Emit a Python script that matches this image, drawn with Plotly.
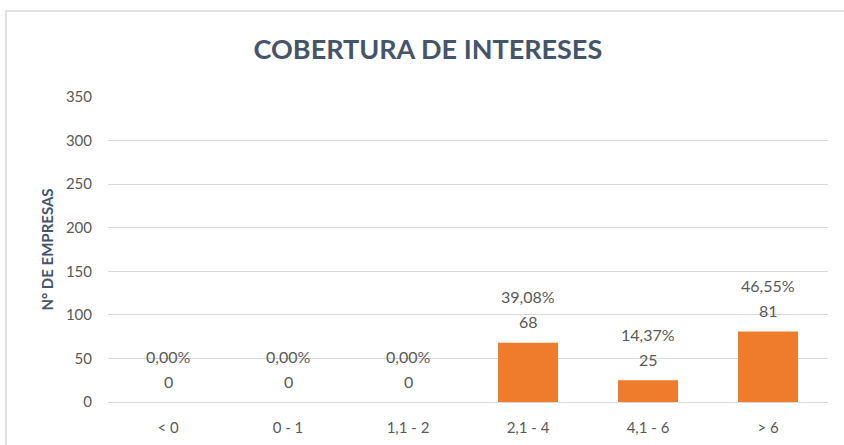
import plotly.graph_objects as go

categories = ["< 0", "0 - 1", "1,1 - 2", "2,1 - 4", "4,1 - 6", "> 6"]
values = [0, 0, 0, 68, 25, 81]
percent_labels = ["0,00%", "0,00%", "0,00%", "39,08%", "14,37%", "46,55%"]
y_ticks = [0, 50, 100, 150, 200, 250, 300, 350]

FONT = "Lato, Open Sans, sans-serif"

fig = go.Figure(go.Bar(
    x=categories,
    y=values,
    marker=dict(color="#EF7B2D", line=dict(width=0)),
    width=0.5,
    hoverinfo="skip",
))

for cat, val, pct in zip(categories, values, percent_labels):
    fig.add_annotation(
        x=cat, y=val, xref="x", yref="y",
        text=str(val), showarrow=False,
        yanchor="middle", yshift=21,
        font=dict(family=FONT, size=16, color="#595959"),
    )
    fig.add_annotation(
        x=cat, y=val, xref="x", yref="y",
        text=pct, showarrow=False,
        yanchor="middle", yshift=46,
        font=dict(family=FONT, size=16, color="#595959"),
    )

fig.update_layout(
    width=844, height=445,
    margin=dict(l=108, r=16, t=97, b=43),
    paper_bgcolor="white", plot_bgcolor="white",
    showlegend=False,
    title=dict(text="<b>COBERTURA DE INTERESES</b>", x=0.507, xanchor="center",
               y=0.888, yanchor="middle",
               font=dict(family=FONT, size=27, color="#44546A")),
    xaxis=dict(showgrid=False, showline=False, ticks="", automargin=False,
               ticklabelstandoff=15,
               tickfont=dict(family=FONT, size=15, color="#595959")),
    yaxis=dict(range=[0, 350], tickvals=y_ticks, showgrid=True, automargin=False,
               gridcolor="#D9D9D9", gridwidth=1, zeroline=True,
               zerolinecolor="#D9D9D9", zerolinewidth=1, showline=False,
               ticks="", ticklabelstandoff=15,
               tickfont=dict(family=FONT, size=15, color="#595959"),
               title=dict(text="<b>N° DE EMPRESAS</b>", standoff=8,
                          font=dict(family=FONT, size=15, color="#44546A"))),
    shapes=[dict(type="rect", xref="paper", yref="paper",
                 x0=-0.1417, x1=1.2, y0=-0.6, y1=1.282,
                 line=dict(color="#D9D9D9", width=1.5), layer="below")],
)

fig.write_html("out.html", config={"displayModeBar": False},
               post_script="document.body.style.margin='0';")
